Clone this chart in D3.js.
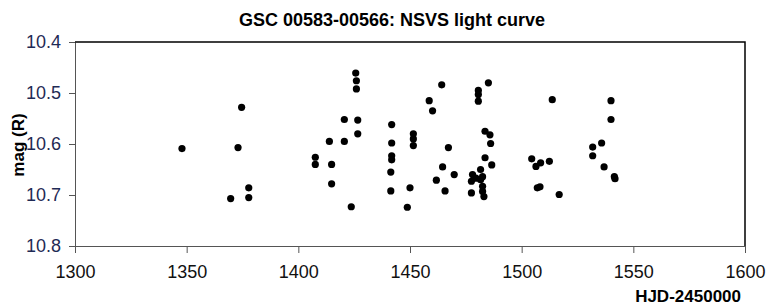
<!DOCTYPE html>
<html>
<head>
<meta charset="utf-8">
<script src="https://d3js.org/d3.v7.min.js"></script>
<style>
  body { margin: 0; background: #fff; }
  text { font-family: Arial, "Liberation Sans", sans-serif; }
</style>
</head>
<body>
<div id="chart"></div>
<script>
// observation dates (HJD-2450000)
var hjd = [1347.9, 1369.7, 1373.0, 1374.6, 1377.8, 1377.8, 1407.6, 1407.6, 1413.9, 1414.9,
  1414.9, 1420.6, 1420.6, 1423.7, 1425.7, 1426.0, 1426.0, 1426.6, 1426.6, 1441.8,
  1441.8, 1441.8, 1441.8, 1441.4, 1441.4, 1451.5, 1451.5, 1451.5, 1450.0, 1448.8,
  1458.6, 1460.1, 1464.2, 1467.2, 1464.6, 1469.8, 1461.8, 1465.7, 1485.1, 1480.6,
  1480.6, 1480.6, 1483.6, 1485.8, 1486.1, 1483.6, 1486.6, 1481.6, 1478.0, 1479.5,
  1482.5, 1477.5, 1481.6, 1482.5, 1482.5, 1483.1, 1477.5, 1504.5, 1506.4, 1508.5,
  1512.4, 1507.0, 1508.2, 1516.8, 1513.7, 1540.0, 1540.0, 1535.8, 1531.8, 1531.8,
  1536.9, 1541.5, 1541.8];
// magnitudes in R
var mag = [10.609, 10.707, 10.607, 10.528, 10.686, 10.705, 10.626, 10.640, 10.595, 10.640,
  10.678, 10.552, 10.595, 10.723, 10.461, 10.476, 10.492, 10.553, 10.580, 10.562,
  10.598, 10.623, 10.631, 10.655, 10.692, 10.580, 10.590, 10.603, 10.686, 10.724,
  10.515, 10.535, 10.484, 10.607, 10.645, 10.660, 10.671, 10.692, 10.480, 10.495,
  10.503, 10.516, 10.575, 10.582, 10.599, 10.627, 10.641, 10.650, 10.660, 10.667,
  10.664, 10.673, 10.670, 10.683, 10.693, 10.703, 10.696, 10.629, 10.644, 10.637,
  10.634, 10.686, 10.684, 10.699, 10.513, 10.515, 10.552, 10.598, 10.606, 10.623,
  10.645, 10.664, 10.668];

var xTicks = [1300, 1350, 1400, 1450, 1500, 1550, 1600];
var yTicks = [10.4, 10.5, 10.6, 10.7, 10.8];

var data = hjd.map(function(d, i) { return {t: d, m: mag[i]}; });

var W = 766, H = 307;
var margin = {top: 42, right: 21, bottom: 61, left: 75},
    width = W - margin.left - margin.right,
    height = H - margin.top - margin.bottom;

var svg = d3.select("#chart")
  .append("svg")
    .attr("width", W)
    .attr("height", H);

var g = svg.append("g")
    .attr("transform", "translate(" + margin.left + "," + margin.top + ")");

var x = d3.scaleLinear().domain([1300, 1600]).range([0, width]);
// magnitude axis: bright (small) at top
var y = d3.scaleLinear().domain([10.4, 10.8]).range([0, height]);

// X axis
var xAxis = g.append("g")
    .attr("transform", "translate(0," + height + ")")
    .call(d3.axisBottom(x).tickValues(xTicks).tickFormat(d3.format("d")).tickSize(7).tickSizeOuter(0));
xAxis.select(".domain").attr("stroke", "#555");
xAxis.selectAll("line").attr("stroke", "#555");
xAxis.selectAll("text")
    .attr("dy", "1.2em")
    .style("font-size", "18px")
    .attr("fill", "#111");

// Y axis
var yAxis = g.append("g")
    .call(d3.axisLeft(y).tickValues(yTicks).tickFormat(d3.format(".1f")).tickSize(6).tickSizeOuter(0));
yAxis.select(".domain").attr("stroke", "#555");
yAxis.selectAll("line").attr("stroke", "#555");
yAxis.selectAll("text")
    .attr("x", -14)
    .style("font-size", "18px")
    .attr("fill", "#1f2a55");

// top and right frame
g.append("path")
    .attr("d", "M0,0H" + width + "V" + height)
    .attr("fill", "none")
    .attr("stroke", "#000")
    .attr("stroke-width", 1.5);

// points
g.selectAll("circle")
  .data(data)
  .enter().append("circle")
    .attr("cx", function(d) { return x(d.t); })
    .attr("cy", function(d) { return y(d.m); })
    .attr("r", 3.6)
    .attr("fill", "#000");

// title
svg.append("text")
    .attr("x", 392)
    .attr("y", 26)
    .attr("text-anchor", "middle")
    .style("font-size", "18px")
    .style("font-weight", "bold")
    .text("GSC 00583-00566: NSVS light curve");

// y label
svg.append("text")
    .attr("transform", "translate(24,145) rotate(-90)")
    .attr("text-anchor", "middle")
    .style("font-size", "17px")
    .style("font-weight", "bold")
    .text("mag (R)");

// x label
svg.append("text")
    .attr("x", 741)
    .attr("y", 302)
    .attr("text-anchor", "end")
    .style("font-size", "17px")
    .style("font-weight", "bold")
    .text("HJD-2450000");
</script>
</body>
</html>
